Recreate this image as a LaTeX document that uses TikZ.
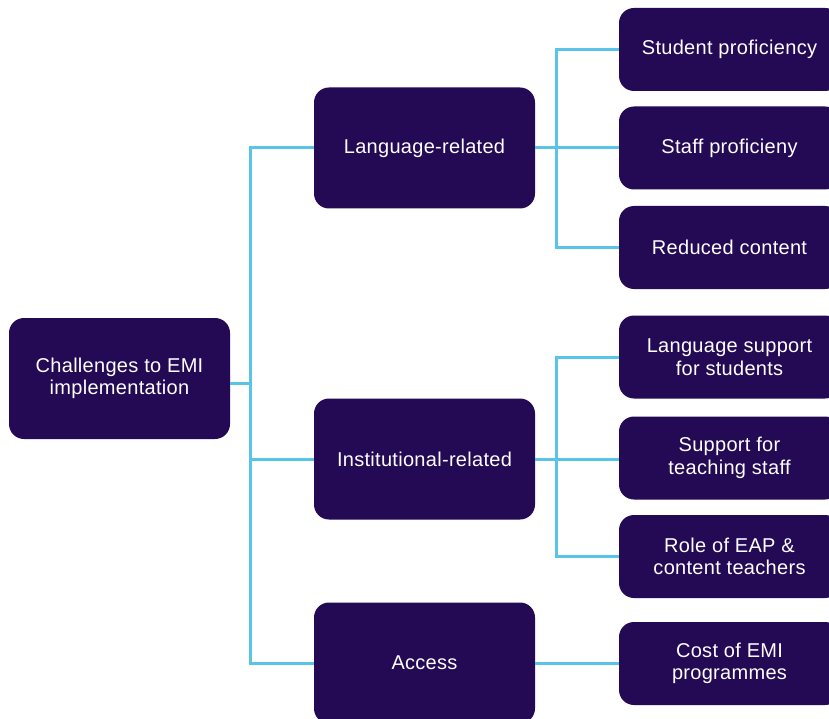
\documentclass[tikz,border=0pt]{standalone}
\usepackage{fontspec}
\setmainfont{Liberation Sans}[LetterSpace=1.5]
\definecolor{boxc}{RGB}{36,9,84}
\definecolor{linec}{RGB}{90,196,232}
\begin{document}
\begin{tikzpicture}[x=1pt,y=-1pt,
  box/.style={fill=boxc, rounded corners=15pt, text=white, align=center,
    font=\fontsize{20}{22.5}\selectfont, inner sep=0pt},
  lvone/.style={box, minimum width=221pt, minimum height=121pt},
  lvtwo/.style={box, minimum width=221pt, minimum height=83pt},
  conn/.style={draw=linec, line width=3pt}]
\clip (0,0) rectangle (829,719);
\fill[white] (0,0) rectangle (829,719);
\node[lvone] (root) at (119.5,378.5) {Challenges to EMI\\implementation};
\node[lvone] (lang) at (424.5,148) {Language-related};
\node[lvone] (inst) at (424.5,459) {Institutional-related};
\node[lvone] (acc) at (424.5,663) {Access};
\node[lvtwo] (s1) at (729.5,49.5) {Student proficiency};
\node[lvtwo] (s2) at (729.5,148) {Staff proficieny};
\node[lvtwo] (s3) at (729.5,247.5) {Reduced content};
\node[lvtwo] (s4) at (729.5,357) {Language support\\for students};
\node[lvtwo] (s5) at (729.5,458) {Support for\\teaching staff};
\node[lvtwo] (s6) at (729.5,556.5) {Role of EAP \&\\content teachers};
\node[lvtwo] (s7) at (729.5,663.5) {Cost of EMI\\programmes};
\coordinate (j1) at (250,383);
\coordinate (j2) at (556,148);
\coordinate (j3) at (556,459);
\begin{scope}[on background layer/.style={}]
\draw[conn] (root.east |- j1) -- (j1);
\draw[conn] (lang.west) -| (j1) |- (acc.west);
\draw[conn] (j1 |- inst.west) -- (inst.west);
\draw[conn] (s1.west) -| (j2) |- (s3.west);
\draw[conn] (lang.east) -- (lang.east -| s2.west);
\draw[conn] (s4.west) -| (j3) |- (s6.west);
\draw[conn] (inst.east) -- (inst.east -| s5.west);
\draw[conn] (acc.east) -- (acc.east -| s7.west);
\end{scope}
\end{tikzpicture}
\end{document}
